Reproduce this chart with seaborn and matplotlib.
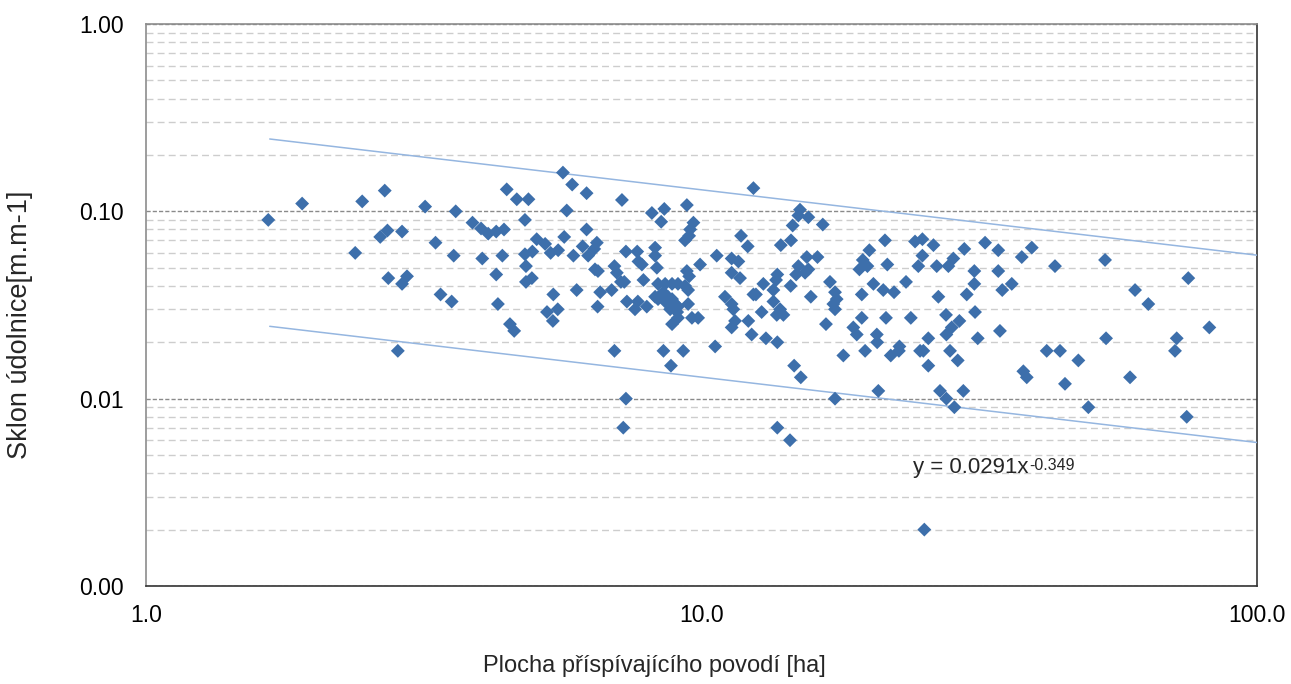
import numpy as np
import pandas as pd
import seaborn as sns
import matplotlib
matplotlib.use("Agg")
import matplotlib.pyplot as plt
from matplotlib.ticker import FixedLocator, FixedFormatter, LogLocator, NullFormatter

# ---------------- data ----------------
area_ha = [
    1.66, 1.91, 2.45, 2.69, 3.18, 2.72, 2.64, 2.89, 2.38, 2.73, 2.95, 2.89, 2.84,
    3.61, 3.32, 3.58, 3.39, 3.55, 4.46, 4.65, 4.88, 5.63, 5.85, 6.21, 5.72, 4.81,
    3.87, 4.01, 4.13, 4.27, 4.41, 6.21, 5.05, 5.23, 5.66, 5.35, 5.52, 6.11, 5.88,
    6.25, 4.03, 4.38, 4.81, 4.96, 4.83, 4.27, 4.83, 4.95, 5.96, 5.41, 4.30, 5.27,
    5.51, 5.40, 4.52, 4.60,
    7.19, 8.14, 8.57, 8.46, 9.41, 9.67, 9.54, 9.34, 9.50, 12.40, 6.48, 6.41, 7.31,
    7.66, 8.25, 8.25, 7.70, 7.81, 8.31, 6.97, 7.04, 6.43, 6.51, 7.16, 7.26, 7.86,
    9.41, 9.50, 9.94, 6.57, 6.89, 6.50, 7.34, 7.68, 7.59, 7.97, 8.35, 8.60, 8.85,
    9.07, 9.34, 9.46, 8.25, 8.53, 8.70, 8.85, 8.35, 8.60, 8.96, 9.07, 9.46, 8.78,
    9.04, 9.07, 8.85, 9.61, 9.86, 11.02, 10.65, 11.33, 11.65, 11.33, 11.73, 11.78,
    12.11, 11.33, 11.41, 11.49, 11.33, 12.14, 12.31, 12.40, 6.97, 8.54, 9.27, 8.81,
    10.58, 7.31, 7.23,
    15.04, 14.94, 15.57, 14.59, 16.53, 13.89, 14.49, 15.47, 16.17, 14.94, 15.57,
    15.36, 14.80, 13.69, 13.62, 12.92, 13.47, 12.53, 14.47, 15.73, 13.47, 13.85,
    13.66, 14.04, 12.83, 13.06, 13.69, 17.03, 17.39, 17.51, 17.27, 17.39, 16.75,
    14.68, 15.09, 17.39, 13.69, 14.43, 18.00, 21.39, 20.05, 19.51, 19.24, 19.89,
    21.60, 20.39, 21.24, 22.21, 23.34, 19.43, 19.43, 18.76, 19.03, 21.48, 23.81,
    20.68, 20.71, 19.70, 22.71, 22.66, 21.91, 20.81, 24.23, 24.56, 24.74,
    24.98, 26.15, 24.98, 26.51, 27.82, 28.40, 29.72, 32.39, 34.21, 30.98, 34.21,
    37.71, 39.31, 43.28, 30.98, 36.18, 34.78, 30.02, 26.69, 31.07, 27.55, 29.12,
    28.21, 27.59, 34.45, 25.60, 31.42, 25.08, 28.01, 28.92, 25.60, 26.87, 29.60,
    27.59, 28.52, 37.96, 38.50, 41.82, 44.19, 45.11, 47.68, 49.70, 25.18,
    53.26, 75.20, 60.31, 63.72, 82.06, 53.48, 71.68, 71.17, 59.07, 74.72,
]
slope = [
    0.090, 0.110, 0.113, 0.129, 0.106, 0.079, 0.073, 0.078, 0.060, 0.044, 0.045, 0.041, 0.018,
    0.100, 0.068, 0.058, 0.036, 0.033, 0.131, 0.116, 0.116, 0.161, 0.139, 0.125, 0.101, 0.090,
    0.087, 0.081, 0.076, 0.078, 0.080, 0.080, 0.071, 0.067, 0.073, 0.060, 0.062, 0.065, 0.058,
    0.058, 0.056, 0.058, 0.059, 0.061, 0.051, 0.046, 0.042, 0.044, 0.038, 0.036, 0.032, 0.029,
    0.030, 0.026, 0.025, 0.023,
    0.115, 0.098, 0.103, 0.088, 0.108, 0.087, 0.080, 0.070, 0.074, 0.133, 0.068, 0.063, 0.061,
    0.061, 0.064, 0.058, 0.054, 0.052, 0.050, 0.051, 0.047, 0.049, 0.048, 0.042, 0.042, 0.043,
    0.048, 0.045, 0.052, 0.037, 0.038, 0.031, 0.033, 0.033, 0.030, 0.031, 0.041, 0.041, 0.041,
    0.041, 0.040, 0.038, 0.035, 0.037, 0.035, 0.034, 0.034, 0.033, 0.032, 0.031, 0.032, 0.030,
    0.029, 0.027, 0.025, 0.027, 0.027, 0.035, 0.058, 0.056, 0.054, 0.047, 0.044, 0.074,
    0.065, 0.032, 0.030, 0.026, 0.024, 0.026, 0.022, 0.036, 0.018, 0.018, 0.018, 0.015,
    0.019, 0.010, 0.007,
    0.102, 0.095, 0.093, 0.084, 0.085, 0.066, 0.070, 0.057, 0.057, 0.051, 0.049,
    0.047, 0.046, 0.046, 0.043, 0.041, 0.038, 0.036, 0.040, 0.035, 0.033, 0.030,
    0.028, 0.028, 0.029, 0.021, 0.020, 0.042, 0.037, 0.034, 0.032, 0.030, 0.025,
    0.015, 0.013, 0.010, 0.007, 0.006, 0.017, 0.070, 0.062, 0.055, 0.049, 0.051,
    0.052, 0.041, 0.038, 0.037, 0.042, 0.036, 0.027, 0.024, 0.022, 0.027, 0.027,
    0.022, 0.020, 0.018, 0.019, 0.018, 0.017, 0.011, 0.069, 0.051, 0.018,
    0.071, 0.066, 0.058, 0.051, 0.051, 0.056, 0.063, 0.068, 0.062, 0.048, 0.048,
    0.057, 0.064, 0.051, 0.041, 0.041, 0.038, 0.036, 0.035, 0.029, 0.028, 0.026,
    0.024, 0.022, 0.023, 0.021, 0.021, 0.018, 0.018, 0.016, 0.015, 0.011, 0.011,
    0.010, 0.009, 0.014, 0.013, 0.018, 0.018, 0.012, 0.016, 0.009, 0.002,
    0.055, 0.044, 0.038, 0.032, 0.024, 0.021, 0.021, 0.018, 0.013, 0.008,
]

# power-law envelope lines  y = a * x^b
coef_lower = 0.0291
coef_upper = 0.291
exponent = -0.349
line_x_range = [1.67, 100.0]
equation_main = "y = 0.0291x"
equation_exp = "-0.349"

y_ticks = [0.001, 0.01, 0.1, 1.0]
y_tick_labels = ["0.00", "0.01", "0.10", "1.00"]
x_ticks = [1.0, 10.0, 100.0]
x_tick_labels = ["1.0", "10.0", "100.0"]
x_label = "Plocha příspívajícího povodí [ha]"
y_label = "Sklon údolnice[m.m-1]"

# ---------------- plotting ----------------
sns.set_theme(style="white")
plt.rcParams["font.family"] = ["Liberation Sans", "DejaVu Sans"]

fig = plt.figure(figsize=(12.91, 6.84), dpi=100)
ax = fig.add_axes([0.1131, 0.1433, 0.9737 - 0.1131, 0.9649 - 0.1433])

df = pd.DataFrame({"area": area_ha, "slope": slope})

lx = np.logspace(np.log10(line_x_range[0]), np.log10(line_x_range[1]), 100)
lines = pd.DataFrame({
    "x": np.concatenate([lx, lx]),
    "y": np.concatenate([coef_upper * lx ** exponent, coef_lower * lx ** exponent]),
    "which": ["upper"] * len(lx) + ["lower"] * len(lx),
})

ax.set_xscale("log")
ax.set_yscale("log")

sns.lineplot(data=lines, x="x", y="y", units="which", estimator=None,
             color="#95b6e0", linewidth=1.1, ax=ax, zorder=3)
sns.scatterplot(data=df, x="area", y="slope", marker="D", s=50,
                color="#3d6fab", edgecolor="none", linewidth=0, ax=ax, zorder=4)

ax.set_xlim(1, 100)
ax.set_ylim(0.001, 1)

ax.xaxis.set_major_locator(FixedLocator(x_ticks))
ax.xaxis.set_major_formatter(FixedFormatter(x_tick_labels))
ax.xaxis.set_minor_locator(FixedLocator([]))
ax.yaxis.set_major_locator(FixedLocator(y_ticks))
ax.yaxis.set_major_formatter(FixedFormatter(y_tick_labels))
ax.yaxis.set_minor_locator(LogLocator(base=10, subs=range(2, 10), numticks=20))
ax.yaxis.set_minor_formatter(NullFormatter())

ax.tick_params(axis="both", which="both", length=0, labelsize=16.5, colors="#000000")
ax.tick_params(axis="y", pad=16)
ax.tick_params(axis="x", pad=13)

ax.grid(False)
ax.yaxis.grid(True, which="minor", color="#cdcdcd", linestyle=(0, (5, 3)), linewidth=1.0)
ax.yaxis.grid(True, which="major", color="#8a8a8a", linestyle=(0, (3, 1.5)), linewidth=1.0)
ax.set_axisbelow(True)

for side in ["left", "top"]:
    ax.spines[side].set_color("#8c8c8c")
    ax.spines[side].set_linewidth(1.2)
for side in ["right", "bottom"]:
    ax.spines[side].set_color("#333333")
    ax.spines[side].set_linewidth(1.2)

ax.set_xlabel(x_label, fontsize=17)
ax.set_ylabel(y_label, fontsize=19.5)
ax.xaxis.set_label_coords(0.4572, -0.1228)
ax.yaxis.set_label_coords(-0.1015, 0.4644)

t = ax.text(24.0, 0.0043, equation_main, fontsize=16, ha="left", va="center")
fig.canvas.draw()
bb = t.get_window_extent()
ax.annotate(equation_exp, xy=(bb.x1, bb.y1), xycoords="figure pixels",
            xytext=(0.5, -1), textcoords="offset points",
            fontsize=11.5, ha="left", va="top")

if ax.get_legend() is not None:
    ax.get_legend().remove()

fig.savefig("out.png", dpi=100)
